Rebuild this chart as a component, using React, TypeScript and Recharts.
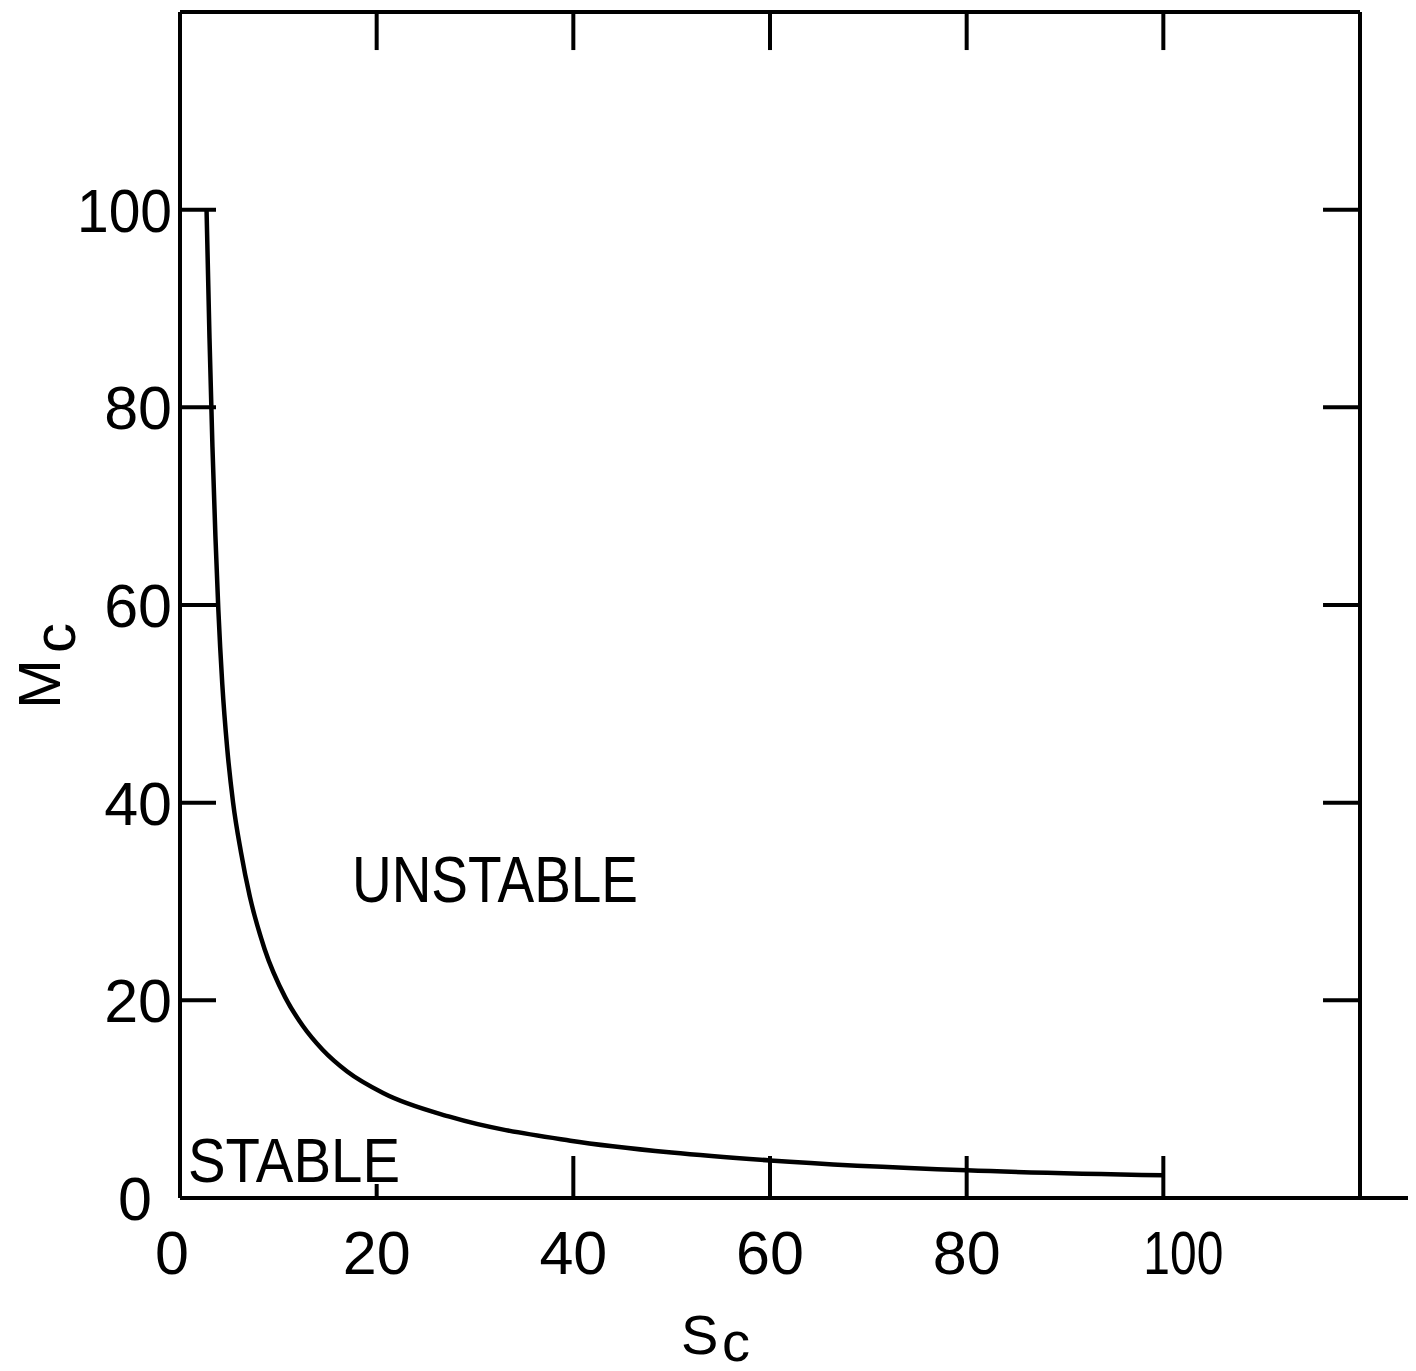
import React from "react";
import { LineChart, Line, XAxis, YAxis, ReferenceLine } from "recharts";

// critical curve: S_c (x) vs M_c (y)
const sc = [2.7, 3.0, 3.3, 3.6, 3.9, 4.3, 4.8, 5.4, 6.2, 7.1, 8.6, 10.7, 12.5, 14.5, 17, 20.7, 27.5, 39.7, 50, 60, 80, 100];
const mc = [100, 87, 76, 67, 59.5, 52, 45.5, 40, 35, 30.5, 25.2, 20.3, 17.4, 15.0, 12.8, 10.6, 8.2, 5.8, 4.6, 3.8, 2.8, 2.3];

const labelTicks = [0, 20, 40, 60, 80, 100];
const frameTicks = [20, 40, 60, 80, 100];
const domain: [number, number] = [0, 120];

const data = sc.map((s, i) => ({ s, m: mc[i] }));

const FONT = "'Liberation Sans', Arial, sans-serif";
const INK = "#000";

// inner tick lengths, in axis units
const TOP_TICK = 3.85;
const RIGHT_TICK = 3.76;

function BottomTick({ x, y, payload }: any) {
  const v = payload.value;
  const len = v === 0 ? 0 : v === 20 ? 14 : 42;
  const dx = v === 0 ? -8 : v === 100 ? 20 : 0;
  return (
    <g>
      {len > 0 && (
        <line x1={x} y1={y} x2={x} y2={y - len} stroke={INK} strokeWidth={4} />
      )}
      <text
        x={x + dx}
        y={y + 76}
        textAnchor="middle"
        fontSize={61}
        fontFamily={FONT}
        fill={INK}
        textLength={v === 100 ? 80 : undefined}
        lengthAdjust="spacingAndGlyphs"
      >
        {v}
      </text>
    </g>
  );
}

function LeftTick({ x, y, payload }: any) {
  const v = payload.value;
  return (
    <g>
      {v !== 0 && (
        <line x1={x} y1={y} x2={x + 36} y2={y} stroke={INK} strokeWidth={4} />
      )}
      <text
        x={v === 0 ? x - 28 : x - 8}
        y={y + 22}
        textAnchor="end"
        fontSize={61}
        fontFamily={FONT}
        fill={INK}
        textLength={v === 100 ? 95 : undefined}
        lengthAdjust="spacingAndGlyphs"
      >
        {v}
      </text>
    </g>
  );
}

export default function App() {
  const axisLine = { stroke: INK, strokeWidth: 4 };
  return (
    <div style={{ width: 1408, height: 1363, background: "#fff" }}>
      <LineChart
        width={1408}
        height={1363}
        data={data}
        margin={{ top: 0, right: 0, bottom: 0, left: 0 }}
      >
        <XAxis
          xAxisId="b"
          type="number"
          dataKey="s"
          domain={domain}
          ticks={labelTicks}
          interval={0}
          height={173}
          tickLine={false}
          tickSize={0}
          tickMargin={0}
          axisLine={axisLine}
          tick={<BottomTick />}
        />
        <XAxis
          xAxisId="t"
          orientation="top"
          type="number"
          domain={domain}
          height={4}
          tickLine={false}
          axisLine={axisLine}
          tick={false}
        />
        <YAxis
          yAxisId="l"
          type="number"
          domain={domain}
          ticks={labelTicks}
          interval={0}
          width={172}
          tickLine={false}
          tickSize={0}
          tickMargin={0}
          axisLine={axisLine}
          tick={<LeftTick />}
        />
        <YAxis
          yAxisId="r"
          orientation="right"
          type="number"
          domain={domain}
          width={56}
          tickLine={false}
          axisLine={axisLine}
          tick={false}
        />
        {frameTicks.map((v) => (
          <ReferenceLine
            key={"t" + v}
            xAxisId="b"
            yAxisId="l"
            segment={[{ x: v, y: 120 }, { x: v, y: 120 - TOP_TICK }]}
            ifOverflow="visible"
            stroke={INK}
            strokeWidth={4}
          />
        ))}
        {frameTicks.map((v) => (
          <ReferenceLine
            key={"r" + v}
            xAxisId="b"
            yAxisId="l"
            segment={[{ x: 120 - RIGHT_TICK, y: v }, { x: 120, y: v }]}
            ifOverflow="visible"
            stroke={INK}
            strokeWidth={4}
          />
        ))}
        {/* bottom rule runs on past the right frame in the scan */}
        <ReferenceLine
          xAxisId="b"
          yAxisId="l"
          segment={[{ x: 120, y: 0 }, { x: 126, y: 0 }]}
          ifOverflow="visible"
          stroke={INK}
          strokeWidth={4}
        />
        <Line
          xAxisId="b"
          yAxisId="l"
          type="monotone"
          dataKey="m"
          stroke={INK}
          strokeWidth={4.5}
          dot={false}
          isAnimationActive={false}
        />
        <text
          x={344}
          y={894}
          fontSize={65}
          fontFamily={FONT}
          fill={INK}
          textLength={286}
          lengthAdjust="spacingAndGlyphs"
        >
          UNSTABLE
        </text>
        <text
          x={180}
          y={1174}
          fontSize={63}
          fontFamily={FONT}
          fill={INK}
          textLength={212}
          lengthAdjust="spacingAndGlyphs"
        >
          STABLE
        </text>
        {/* axis titles: main letter plus a lowered "c" */}
        <text
          x={52}
          y={701}
          transform="rotate(-90, 52, 701)"
          fontSize={60}
          fontFamily={FONT}
          fill={INK}
        >
          M
        </text>
        <text
          x={67}
          y={645}
          transform="rotate(-90, 67, 645)"
          fontSize={60}
          fontFamily={FONT}
          fill={INK}
        >
          c
        </text>
        <text x={673} y={1346} fontSize={56} fontFamily={FONT} fill={INK}>
          S
        </text>
        <text x={714} y={1353} fontSize={56} fontFamily={FONT} fill={INK}>
          c
        </text>
      </LineChart>
    </div>
  );
}
